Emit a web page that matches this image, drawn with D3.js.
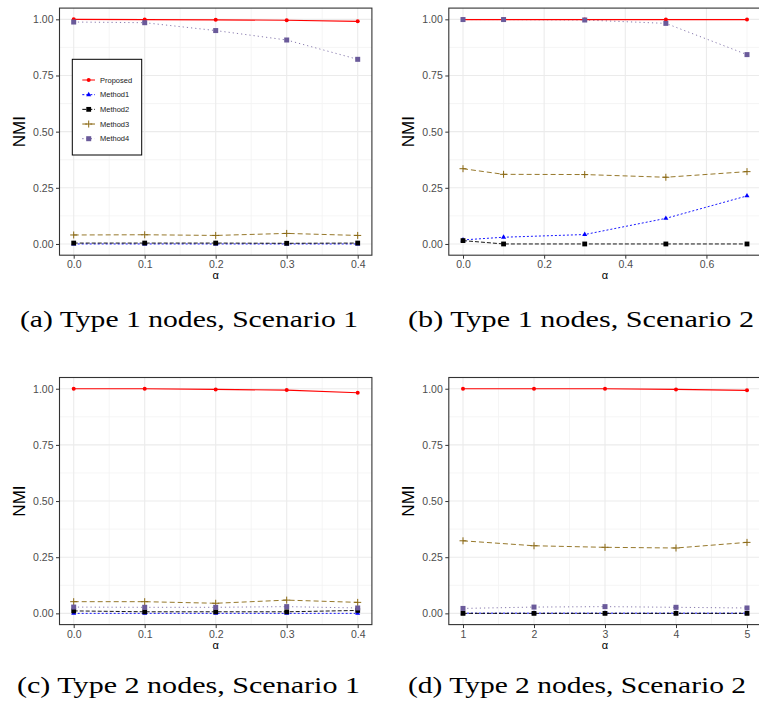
<!DOCTYPE html>
<html>
<head>
<meta charset="utf-8">
<title>NMI panels</title>
<script src="https://cdn.jsdelivr.net/npm/d3@7"></script>
<style>
body { margin: 0; background: #fff; }
svg text { font-family: "Liberation Sans", Arial, sans-serif; }
</style>
</head>
<body>
<svg id="chart" width="759" height="705"></svg>
<script>

/* data */
var methods = ["Proposed", "Method1", "Method2", "Method3", "Method4"];
var colors  = ["#ff0000", "#0000ff", "#000000", "#8b6914", "#6a5a9a"];
var dashes  = [null, "2,2", "4,2", "5,3", "1.2,3"];

var alphaS1 = [0, 0.1, 0.2, 0.3, 0.4];
var alphaS2 = [0, 0.1, 0.3, 0.5, 0.7];
var alphaT2 = [1, 2, 3, 4, 5];

var ticksS1 = [0, 0.1, 0.2, 0.3, 0.4];
var ticksS2 = [0, 0.2, 0.4, 0.6];
var ticksT2 = [1, 2, 3, 4, 5];
var ticksY  = [0, 0.25, 0.5, 0.75, 1];

// rows follow the order of `methods`
var nmiA = [
  [1.000, 0.999, 0.998, 0.996, 0.991],
  [0.000, 0.000, 0.000, 0.000, 0.000],
  [0.004, 0.004, 0.004, 0.003, 0.004],
  [0.040, 0.041, 0.038, 0.047, 0.038],
  [0.988, 0.985, 0.950, 0.908, 0.822]
];
var nmiB = [
  [0.999, 0.999, 0.999, 0.999, 0.999],
  [0.018, 0.030, 0.042, 0.114, 0.214],
  [0.015, 0.000, 0.000, 0.000, 0.000],
  [0.335, 0.310, 0.309, 0.297, 0.322],
  [0.999, 0.999, 0.997, 0.982, 0.843]
];
var nmiC = [
  [1.000, 1.000, 0.997, 0.994, 0.982],
  [0.000, 0.000, 0.000, 0.000, 0.000],
  [0.011, 0.007, 0.007, 0.007, 0.013],
  [0.052, 0.052, 0.045, 0.059, 0.049],
  [0.028, 0.027, 0.027, 0.030, 0.024]
];
var nmiD = [
  [1.000, 1.000, 1.000, 0.997, 0.993],
  [0.001, 0.001, 0.001, 0.001, 0.001],
  [0.000, 0.000, 0.000, 0.000, 0.000],
  [0.323, 0.301, 0.294, 0.291, 0.316],
  [0.022, 0.028, 0.030, 0.027, 0.024]
];

var captions = ["(a) Type 1 nodes, Scenario 1", "(b) Type 1 nodes, Scenario 2",
                "(c) Type 2 nodes, Scenario 1", "(d) Type 2 nodes, Scenario 2"];

/* layout */
var PW = 312.4, PH = 247.1;
var panels = [
  { left: 59.5,  top: 8.1,   xs: alphaS1, xt: ticksS1, ys: nmiA, cap: captions[0], capX: 20,  capY: 327, capW: 338, legend: true, fmt: d3.format(".1f") },
  { left: 448.8, top: 8.1,   xs: alphaS2, xt: ticksS2, ys: nmiB, cap: captions[1], capX: 408, capY: 327, capW: 346, fmt: d3.format(".1f") },
  { left: 59.5,  top: 377.5, xs: alphaS1, xt: ticksS1, ys: nmiC, cap: captions[2], capX: 17,  capY: 693, capW: 343, fmt: d3.format(".1f") },
  { left: 448.8, top: 377.5, xs: alphaT2, xt: ticksT2, ys: nmiD, cap: captions[3], capX: 408, capY: 693, capW: 338, fmt: d3.format("d") }
];

var svg = d3.select("#chart");

function midpoints(t) {
  var out = [];
  var step = t[1] - t[0];
  var lo = t[0] - step / 2, hi = t[t.length - 1] + step / 2;
  for (var v = lo; v <= hi + 1e-9; v += step) out.push(v);
  return out;
}

function drawMarker(g, i, cx, cy) {
  var c = colors[i];
  if (i === 0) {
    g.append("circle").attr("cx", cx).attr("cy", cy).attr("r", 2).attr("fill", c);
  } else if (i === 1) {
    g.append("path").attr("transform", "translate(" + cx + "," + cy + ")")
      .attr("d", d3.symbol(d3.symbolTriangle, 11)()).attr("fill", c);
  } else if (i === 2) {
    g.append("rect").attr("x", cx - 2.4).attr("y", cy - 2.4).attr("width", 4.8).attr("height", 4.8).attr("fill", c);
  } else if (i === 3) {
    g.append("path").attr("d", "M" + (cx - 3.5) + "," + cy + "h7M" + cx + "," + (cy - 3.5) + "v7")
      .attr("stroke", c).attr("stroke-width", 1);
  } else {
    g.append("rect").attr("x", cx - 2.5).attr("y", cy - 2.5).attr("width", 5).attr("height", 5).attr("fill", c);
  }
}

panels.forEach(function(p) {
  var xmin = d3.min(p.xs), xmax = d3.max(p.xs), pad = (xmax - xmin) * 0.05;
  var x = d3.scaleLinear().domain([xmin - pad, xmax + pad]).range([p.left, p.left + PW]);
  var y = d3.scaleLinear().domain([-0.05, 1.05]).range([p.top + PH, p.top]);

  var g = svg.append("g");

  // background grid (theme_bw)
  var yMinor = midpoints(ticksY).filter(function(v) { return v > -0.05 && v < 1.05; });
  var xMinor = midpoints(p.xt).filter(function(v) { return v > xmin - pad && v < xmax + pad; });

  g.selectAll(".ymin").data(yMinor).enter().append("line")
    .attr("x1", p.left).attr("x2", p.left + PW)
    .attr("y1", function(d) { return y(d); }).attr("y2", function(d) { return y(d); })
    .attr("stroke", "#f2f2f2").attr("stroke-width", 0.8);
  g.selectAll(".xmin").data(xMinor).enter().append("line")
    .attr("y1", p.top).attr("y2", p.top + PH)
    .attr("x1", function(d) { return x(d); }).attr("x2", function(d) { return x(d); })
    .attr("stroke", "#f2f2f2").attr("stroke-width", 0.8);
  g.selectAll(".ymaj").data(ticksY).enter().append("line")
    .attr("x1", p.left).attr("x2", p.left + PW)
    .attr("y1", function(d) { return y(d); }).attr("y2", function(d) { return y(d); })
    .attr("stroke", "#ebebeb").attr("stroke-width", 1.1);
  g.selectAll(".xmaj").data(p.xt).enter().append("line")
    .attr("y1", p.top).attr("y2", p.top + PH)
    .attr("x1", function(d) { return x(d); }).attr("x2", function(d) { return x(d); })
    .attr("stroke", "#ebebeb").attr("stroke-width", 1.1);

  // lines (Proposed last so the red stays visible), then points
  var line = d3.line().x(function(d) { return x(d[0]); }).y(function(d) { return y(d[1]); });
  [1, 2, 3, 4, 0].forEach(function(i) {
    var vals = p.ys[i];
    var pts = p.xs.map(function(v, k) { return [v, vals[k]]; });
    g.append("path").attr("d", line(pts)).attr("fill", "none")
      .attr("stroke", colors[i]).attr("stroke-width", i === 0 ? 1.2 : 1)
      .attr("stroke-opacity", i === 0 ? 1 : (i === 4 ? 0.8 : 0.9))
      .attr("stroke-dasharray", dashes[i]);
  });
  p.ys.forEach(function(vals, i) {
    p.xs.forEach(function(v, k) { drawMarker(g, i, x(v), y(vals[k])); });
  });

  // axes
  var yAxis = d3.axisLeft(y).tickValues(ticksY).tickFormat(d3.format(".2f")).tickSize(3.5).tickPadding(2.5);
  var xAxis = d3.axisBottom(x).tickValues(p.xt).tickFormat(p.fmt).tickSize(3.5).tickPadding(2);
  var ya = g.append("g").attr("transform", "translate(" + p.left + ",0)").call(yAxis);
  var xa = g.append("g").attr("transform", "translate(0," + (p.top + PH) + ")").call(xAxis);
  [ya, xa].forEach(function(a) {
    a.select(".domain").remove();
    a.selectAll(".tick line").attr("stroke", "#333333");
    a.selectAll(".tick text").attr("fill", "#4d4d4d").style("font-size", "10.5px");
  });

  // panel border
  g.append("rect").attr("x", p.left).attr("y", p.top).attr("width", PW).attr("height", PH)
    .attr("fill", "none").attr("stroke", "#333333").attr("stroke-width", 1.1);

  // axis titles
  g.append("text").attr("transform", "translate(" + (p.left - 40.5) + "," + (p.top + PH / 2) + ") rotate(-90)")
    .attr("text-anchor", "middle").attr("dominant-baseline", "central")
    .style("font-size", "17px").attr("fill", "#000").text("NMI");
  g.append("text").attr("x", p.left + PW / 2).attr("y", p.top + PH + 24)
    .attr("text-anchor", "middle").style("font-size", "11px").attr("fill", "#000").text("α");

  // caption
  g.append("text").attr("x", p.capX).attr("y", p.capY)
    .attr("textLength", p.capW).attr("lengthAdjust", "spacingAndGlyphs")
    .style("font-family", "'Liberation Serif', 'Times New Roman', serif")
    .style("font-size", "24px").attr("fill", "#000").text(p.cap);

  if (p.legend) {
    var lg = g.append("g");
    lg.append("rect").attr("x", 72.3).attr("y", 59.3).attr("width", 69.4).attr("height", 95.7)
      .attr("fill", "#fff").attr("stroke", "#000").attr("stroke-width", 1);
    var ly = d3.scalePoint().domain(methods).range([80, 138.7]);
    methods.forEach(function(m, i) {
      var yy = ly(m);
      lg.append("line").attr("x1", 82.3).attr("x2", 95).attr("y1", yy).attr("y2", yy)
        .attr("stroke", colors[i]).attr("stroke-width", 1).attr("stroke-dasharray", dashes[i]);
      drawMarker(lg, i, 88.7, yy);
      lg.append("text").attr("x", 100).attr("y", yy).attr("dominant-baseline", "central")
        .style("font-size", "7.5px").attr("fill", "#1a1a1a").text(m);
    });
  }
});

</script>
</body>
</html>
